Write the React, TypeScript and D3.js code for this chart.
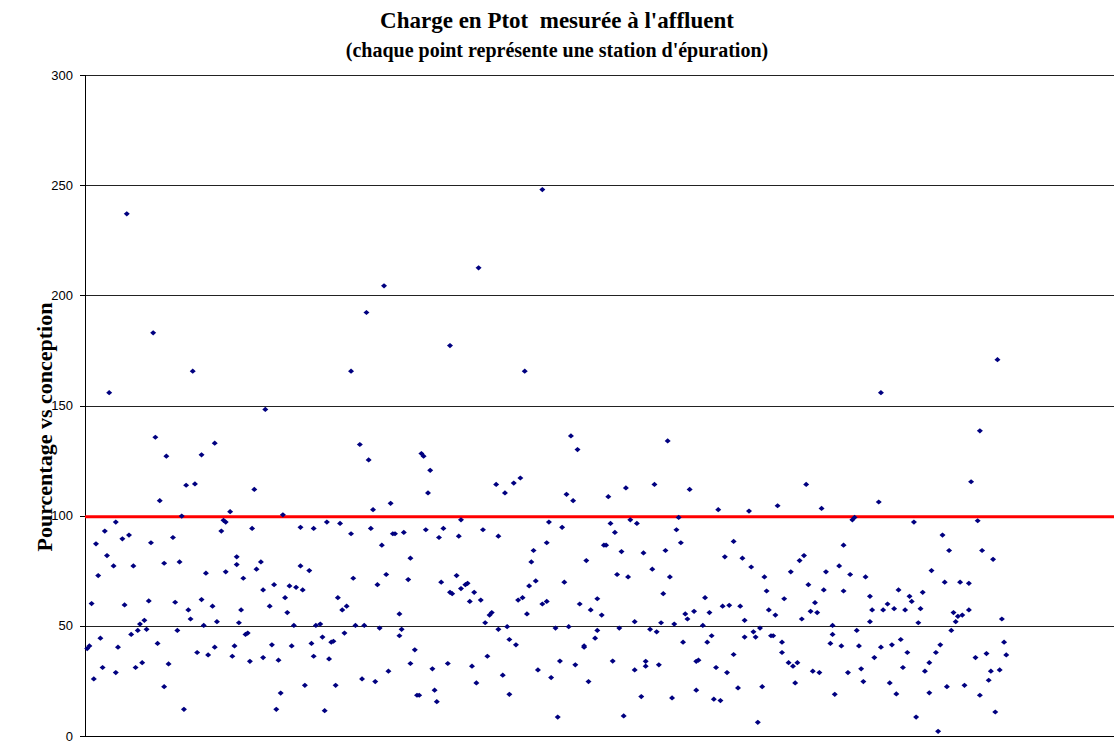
import React from "react";
import * as d3 from "d3";

const titleLines = ["Charge en Ptot  mesurée à l'affluent", "(chaque point représente une station d'épuration)"];
const yAxisTitle = "Pourcentage vs conception";
const yTicks = [0, 50, 100, 150, 200, 250, 300];
const designLimit = 99.5;

const stationIndex = [
  1,2,3,4,5,6,7,8,9,10,11,13,14,14,15,17,18,19,20,21,22,23,24,25,26,27,28,29,30,31,32,33,34,36,36,37,38,40,41,42,43,44,45,46,47,48,49,50,51,53,53,54,55,56,58,59,59,60,62,63,64,64,66,67,68,69,69,70,
  71,72,73,74,75,76,77,78,80,81,81,82,84,85,86,87,88,89,90,91,92,93,94,95,96,98,98,99,100,102,103,104,104,105,107,108,109,110,111,112,113,114,115,116,117,118,119,121,121,122,123,125,126,127,128,129,130,131,132,133,134,135,136,137,138,139,140,
  141,143,143,144,145,147,148,148,150,151,152,153,154,155,156,157,158,159,160,161,162,163,165,166,166,167,169,170,171,171,173,174,175,176,177,178,179,180,181,182,183,184,185,187,188,188,190,191,192,193,193,195,196,197,198,199,200,201,202,203,204,205,206,208,208,210,210,211,
  212,214,215,216,217,218,219,220,221,222,223,224,225,227,227,228,229,230,232,233,233,235,236,237,238,239,240,241,242,243,244,245,246,247,248,250,250,251,253,254,255,255,257,258,259,260,261,262,263,264,265,266,267,268,269,270,271,272,273,274,275,277,278,278,279,281,282,
  283,284,285,286,287,288,289,290,291,292,293,295,295,297,298,299,300,300,302,303,304,305,306,307,308,309,310,311,312,313,314,315,317,317,318,320,321,322,323,324,325,326,327,328,329,330,331,332,333,334,335,336,337,339,340,340,341,343,344,345,345,347,348,349,350,351,352,
  353,354,355,357,357,358,359,361,362,362,363,365,366,367,368,369,370,371,372,373,374,375,376,377,378,379,380,381,382,384,384,385,387,388,389,390,391,392,393,394,395,396,397,398,399,400,402,402,403,405,406,407,407,408,410,411,412,413,414,415,416,417,418,419,
];

const chargePct = [
  39.7,40.9,60.1,25.9,87.2,72.8,44.4,31.1,93,81.9,155.8,77.2,28.8,97.1,40.3,89.5,59.5,237,91.2,46.1,77.2,31.1,47.9,50.8,33.3,52.5,48.4,61.3,87.7,183,135.6,42,106.8,22.4,78.4,127,32.7,90.1,60.7,47.9,79,99.8,12.1,113.8,57.2,53.1,165.6,114.4,37.9,61.9,127.6,50.2,73.9,36.8,58.9,40.3,132.9,51.9,93,97.9,74.5,97.1,101.8,36.2,40.9,81.3,77.8,51.4,
  57.2,71.6,46.1,46.7,33.9,94.2,111.9,75.7,79,66.3,35.6,148.2,58.9,41.4,68.7,12.1,34.4,19.5,100.4,62.8,56,68.1,40.9,50.2,67.5,77.2,94.7,66.3,23,75.1,42,94.2,36.2,50.2,50.8,44.9,11.5,97.1,35,42.6,43,23,62.8,96.5,57.2,46.7,58.9,91.8,165.6,71.6,50.2,132.3,25.9,50.2,192.2,125.3,94.2,102.7,24.7,68.7,49,86.6,204.3,73.3,29.4,105.6,91.8,
  91.8,55.4,45.5,48.4,92.4,71,32.9,80.7,39.1,18.5,18.5,128.2,127,93.6,110.3,120.6,30.5,20.8,15.6,90.1,69.8,94.2,32.9,65.2,177.2,64.6,72.8,90.7,98.1,66.9,68.7,69.3,61.1,31.7,65.2,24.1,212.5,61.7,93.6,51.4,36.2,54.9,56,114.2,48.4,90.7,27.6,110.3,49.6,43.8,18.9,114.8,41.4,61.7,117.1,62.8,165.6,55.4,68.1,79,84.2,70.4,30,59.9,248,87.7,61.1,97.1,
  26.5,49,8.6,34,94.7,69.8,109.7,49.6,136.2,106.8,32.3,130,59.9,40.3,40.9,79.6,24.7,57.2,44.4,47.9,62.3,54.9,86.6,86.6,108.6,96.5,34,92.4,73.3,49,83.7,9.1,112.6,72.2,98.1,51.9,30,96.5,17.9,83.1,33.9,31.7,48.4,75.7,114.2,47.3,32.3,51.4,64.6,84.2,133.9,72.2,17.3,50.8,93.6,99.2,87.7,42.6,55.4,53.1,111.9,56.6,20.8,33.9,34.4,50.2,62.8,
  42.6,56,45.5,16.7,31.1,102.7,16.1,58.9,81.3,28.8,59.3,88.3,37,21.8,58.9,80.7,52.5,44.9,102.1,76.7,47.3,44.9,6.2,49,22.4,72.2,65.8,57.2,45.5,45.5,54.9,104.5,37.9,42.6,62.3,33.3,74.5,31.7,24.1,33.3,79.6,53.1,81.9,114.2,68.7,56.6,29.4,60.5,56,28.8,103.3,66.3,74.5,42,46.1,50.2,18.9,77.2,40.9,86.6,65.8,28.8,73.3,98.1,99.2,47.9,40.9,
  30.5,24.7,72.2,63.4,51.9,57.2,35.6,106.2,155.8,40.3,57.2,59.9,24.1,41.4,57.8,19.1,66.3,43.8,31.1,57.2,37.9,63.4,61.1,97.1,8.6,51.4,57.8,65.2,29.4,19.6,33.3,75.1,37.9,2.1,41.4,91.2,69.8,22.4,84.2,47.9,56,51.9,54.3,69.8,54.9,23,57.2,69.3,115.4,35.6,97.7,18.5,138.5,84.2,37.4,25.3,29.4,80.2,10.9,170.8,30,53.1,42.6,36.8,
];

const W = 1114;
const H = 746;
const left = 85;
const right = 1114;
const top = 75;
const bottom = 736;

const titleSizes = [23, 20];
const titleBaselines = [28, 57];

export default function App() {
  const x = d3.scaleLinear().domain([0, 468]).range([left, right]);
  const y = d3.scaleLinear().domain([0, 300]).range([bottom, top]);
  const points = stationIndex.map((s, i) => ({ s, v: chargePct[i] }));
  const diamond = "M0,-2.6L3,0L0,2.6L-3,0Z";
  const serif = "'Liberation Serif', 'Times New Roman', serif";
  return (
    <svg width={W} height={H} style={{ position: "absolute", left: 0, top: 0, background: "#fff" }}>
      <rect x={0} y={0} width={W} height={H} fill="#fff" />
      {yTicks.map((t) => (
        <g key={t}>
          {t > 0 && (
            <line x1={left} x2={right} y1={Math.round(y(t)) + 0.5} y2={Math.round(y(t)) + 0.5} stroke="#222" strokeWidth={1} />
          )}
          <line x1={left - 5} x2={left} y1={Math.round(y(t)) + 0.5} y2={Math.round(y(t)) + 0.5} stroke="#000" />
          <text x={73} y={y(t)} dy="0.35em" textAnchor="end" fontFamily="'Liberation Sans', Arial, sans-serif" fontSize={13} fill="#000">
            {t}
          </text>
        </g>
      ))}
      <line x1={left + 0.5} x2={left + 0.5} y1={top} y2={bottom} stroke="#000" />
      <line x1={left} x2={right} y1={bottom + 0.5} y2={bottom + 0.5} stroke="#000" />
      <line x1={left} x2={right} y1={y(designLimit)} y2={y(designLimit)} stroke="#ff0000" strokeWidth={3} />
      {points.map((p, i) => (
        <path key={i} d={diamond} transform={`translate(${x(p.s)},${y(p.v)})`} fill="#000080" />
      ))}
      {titleLines.map((t, i) => (
        <text key={i} x={557} y={titleBaselines[i]} textAnchor="middle" xmlSpace="preserve" fontFamily={serif} fontWeight="bold" fontSize={titleSizes[i]} fill="#000">
          {t}
        </text>
      ))}
      <text transform={`translate(52,427) rotate(-90)`} textAnchor="middle" fontFamily={serif} fontWeight="bold" fontSize={22} fill="#000">
        {yAxisTitle}
      </text>
    </svg>
  );
}
